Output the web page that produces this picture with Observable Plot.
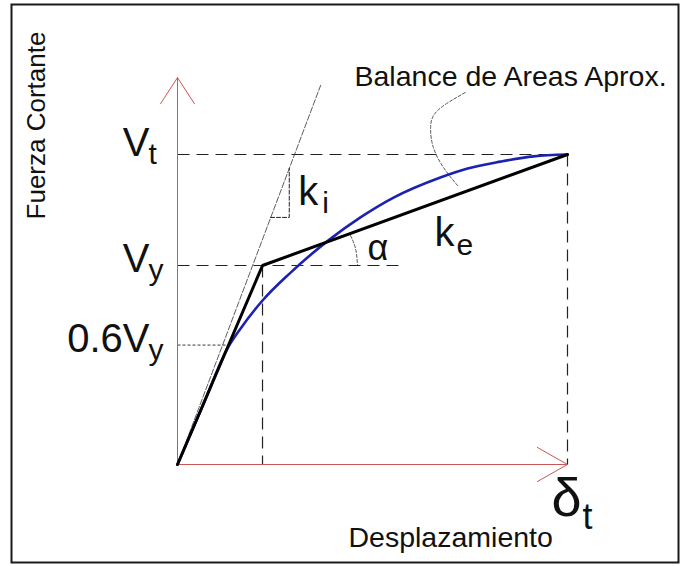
<!DOCTYPE html>
<html>
<head>
<meta charset="utf-8">
<script src="https://cdn.jsdelivr.net/npm/d3@7"></script>
<script src="https://cdn.jsdelivr.net/npm/@observablehq/plot@0.6"></script>
<style>
  html, body { margin: 0; padding: 0; background: #fff; }
</style>
</head>
<body>
<div id="chart"></div>
<script>
// Bilinear idealisation of a pushover (capacity) curve.
// Displacement is normalised so that δt = 1, shear so that Vt = 1.
const deltaT = 1;
const Vt = 1;
const deltaY = 0.218;
const Vy = 0.642;

// Capacity curve (blue)
const curveDisp  = [0, 0.064, 0.128, 0.162, 0.218, 0.290, 0.387, 0.469, 0.554, 0.674, 0.744, 0.828, 0.913, 1];
const curveShear = [0, 0.187, 0.374, 0.439, 0.529, 0.619, 0.723, 0.797, 0.861, 0.926, 0.955, 0.977, 0.994, 1];

// Bilinear approximation: origin -> yield point -> target point
const bilinearDisp  = [0, deltaY, deltaT];
const bilinearShear = [0, Vy, Vt];

// Initial stiffness line ki
const kiDisp  = [0, 0.367];
const kiShear = [0, 1.223];

// Slope triangle on the ki line
const triDisp  = [0.2385, 0.2866, 0.2866];
const triShear = [0.797, 0.797, 0.955];

// Leader from the "Balance de Areas" note to the gap between the curves
const leaderDisp  = [0.738, 0.667, 0.649, 0.656, 0.682, 0.718];
const leaderShear = [1.2, 1.142, 1.087, 1.023, 0.958, 0.9];

// Arc marking the post-yield angle α
const arcDisp  = [0.4436, 0.4564, 0.4615];
const arcShear = [0.7387, 0.697, 0.645];

// Tick labels (main text + subscript)
const yTickValues = [Vt, Vy, 0.6 * Vy];
const yTickMain   = ["V", "V", "0.6V"];
const yTickSub    = ["t", "y", "y"];
const xTickValues = [deltaT];
const xTickMain   = ["δ"];
const xTickSub    = ["t"];

// Axis and annotation texts
const yTitle = "Fuerza Cortante";
const xTitle = "Desplazamiento";
const note = "Balance de Areas Aprox.";

const zip = (xs, ys) => xs.map((x, i) => ({x, y: ys[i]}));
const font = "'Liberation Sans', Arial, Helvetica, sans-serif";
const ink = "#111";
const axisRed = "#cc5555";
const dashed = {stroke: "#222", strokeWidth: 1.2, strokeDasharray: "12,7"};

// a label made of a main text and a subscript, anchored at a data point
function subLabel(x, y, main, sub, o) {
  return [
    Plot.text([main], {x: () => x, y: () => y, text: d => d, dx: o.dx, dy: o.dy,
      fontSize: o.size, textAnchor: o.anchor || "start", lineAnchor: "bottom", fill: ink}),
    Plot.text([sub], {x: () => x, y: () => y, text: d => d, dx: o.sdx, dy: o.sdy,
      fontSize: o.subSize, textAnchor: "start", lineAnchor: "bottom", fill: ink})
  ];
}

const yTickMarks = yTickValues.flatMap((v, i) => {
  const shift = yTickSub[i] === "y" ? 7 : 1; // descending subscripts sit lower
  return subLabel(0, v, yTickMain[i], yTickSub[i],
    {dx: -28, dy: shift, size: 40, anchor: "end", sdx: -29, sdy: shift + 8, subSize: 30});
});

const xTickMarks = xTickValues.flatMap((v, i) =>
  subLabel(v, 0, xTickMain[i], xTickSub[i],
    {dx: -16, dy: 51, size: 54, sdx: 15, sdy: 64, subSize: 36}));

const chart = Plot.plot({
  width: 686,
  height: 566,
  marginLeft: 11,
  marginTop: 4,
  marginRight: 8,
  marginBottom: 4,
  x: {domain: [0, 1], range: [177, 567], axis: null},
  y: {domain: [0, 1], range: [464, 154], axis: null},
  style: {fontFamily: font, background: "#fff", overflow: "visible"},
  marks: [
    Plot.frame({stroke: "#1a1a1a", strokeWidth: 2}),

    // dashed guides to Vt, δt, Vy and δy
    Plot.link([{x1: 0, y1: Vt, x2: deltaT, y2: Vt}], {x1: "x1", y1: "y1", x2: "x2", y2: "y2", ...dashed}),
    Plot.link([{x1: deltaT, y1: Vt, x2: deltaT, y2: 0}], {x1: "x1", y1: "y1", x2: "x2", y2: "y2", ...dashed}),
    Plot.link([{x1: 0, y1: Vy, x2: 0.567, y2: Vy}], {x1: "x1", y1: "y1", x2: "x2", y2: "y2", ...dashed}),
    Plot.link([{x1: deltaY, y1: Vy, x2: deltaY, y2: 0}], {x1: "x1", y1: "y1", x2: "x2", y2: "y2", ...dashed}),
    // 0.6 Vy guide, finely dotted
    Plot.link([{x1: 0, y1: 0.6 * Vy, x2: 0.126, y2: 0.6 * Vy}], {x1: "x1", y1: "y1", x2: "x2", y2: "y2",
      stroke: "#222", strokeWidth: 0.9, strokeDasharray: "3,2"}),

    // axes with open arrowheads
    Plot.arrow([{x1: 0, y1: 0, x2: 0, y2: 1.248}], {x1: "x1", y1: "y1", x2: "x2", y2: "y2",
      stroke: axisRed, strokeWidth: 1, headAngle: 66, headLength: 46.5}),
    Plot.arrow([{x1: 0, y1: 0, x2: deltaT, y2: 0}], {x1: "x1", y1: "y1", x2: "x2", y2: "y2",
      stroke: axisRed, strokeWidth: 1, headAngle: 59, headLength: 52}),

    // initial stiffness ki and its slope triangle
    Plot.line(zip(kiDisp, kiShear), {x: "x", y: "y", stroke: "#333", strokeWidth: 0.8, strokeDasharray: "6,2"}),
    Plot.line(zip(triDisp, triShear), {x: "x", y: "y", stroke: "#222", strokeWidth: 1, strokeDasharray: "4,2"}),

    // leader and α arc
    Plot.line(zip(leaderDisp, leaderShear), {x: "x", y: "y", stroke: "#444", strokeWidth: 0.9,
      strokeDasharray: "3,2", curve: "natural"}),
    Plot.line(zip(arcDisp, arcShear), {x: "x", y: "y", stroke: "#444", strokeWidth: 0.9,
      strokeDasharray: "3,2", curve: "natural"}),

    // capacity curve and its bilinear approximation
    Plot.line(zip(curveDisp, curveShear), {x: "x", y: "y", stroke: "#1c22b0", strokeWidth: 2.6, curve: "monotone-x"}),
    Plot.line(zip(bilinearDisp, bilinearShear), {x: "x", y: "y", stroke: "#000", strokeWidth: 3, strokeLinejoin: "miter"}),

    // tick labels
    ...yTickMarks,
    ...xTickMarks,

    // stiffness and angle labels
    ...subLabel(triDisp[2], triShear[0], "k", "i", {dx: 9, dy: -12, size: 40, sdx: 33, sdy: -4, subSize: 30}),
    ...subLabel(deltaY, Vy, "k", "e", {dx: 172, dy: -19, size: 40, sdx: 194, sdy: -10, subSize: 30}),
    Plot.text(["α"], {x: () => deltaY, y: () => Vy, text: d => d, dx: 105, dy: -5, fontSize: 36,
      textAnchor: "start", lineAnchor: "bottom", fill: ink}),

    // titles and note
    Plot.text([note], {frameAnchor: "top-left", text: d => d, dx: 343, dy: 81, fontSize: 28.5,
      textAnchor: "start", lineAnchor: "bottom", fill: ink}),
    Plot.text([xTitle], {frameAnchor: "top-left", text: d => d, dx: 337, dy: 542, fontSize: 28.5,
      textAnchor: "start", lineAnchor: "bottom", fill: ink}),
    Plot.text([yTitle], {frameAnchor: "top-left", text: d => d, dx: 33, dy: 121, fontSize: 26,
      rotate: -90, textAnchor: "middle", lineAnchor: "bottom", fill: ink})
  ]
});

document.getElementById("chart").append(chart);
</script>
</body>
</html>
